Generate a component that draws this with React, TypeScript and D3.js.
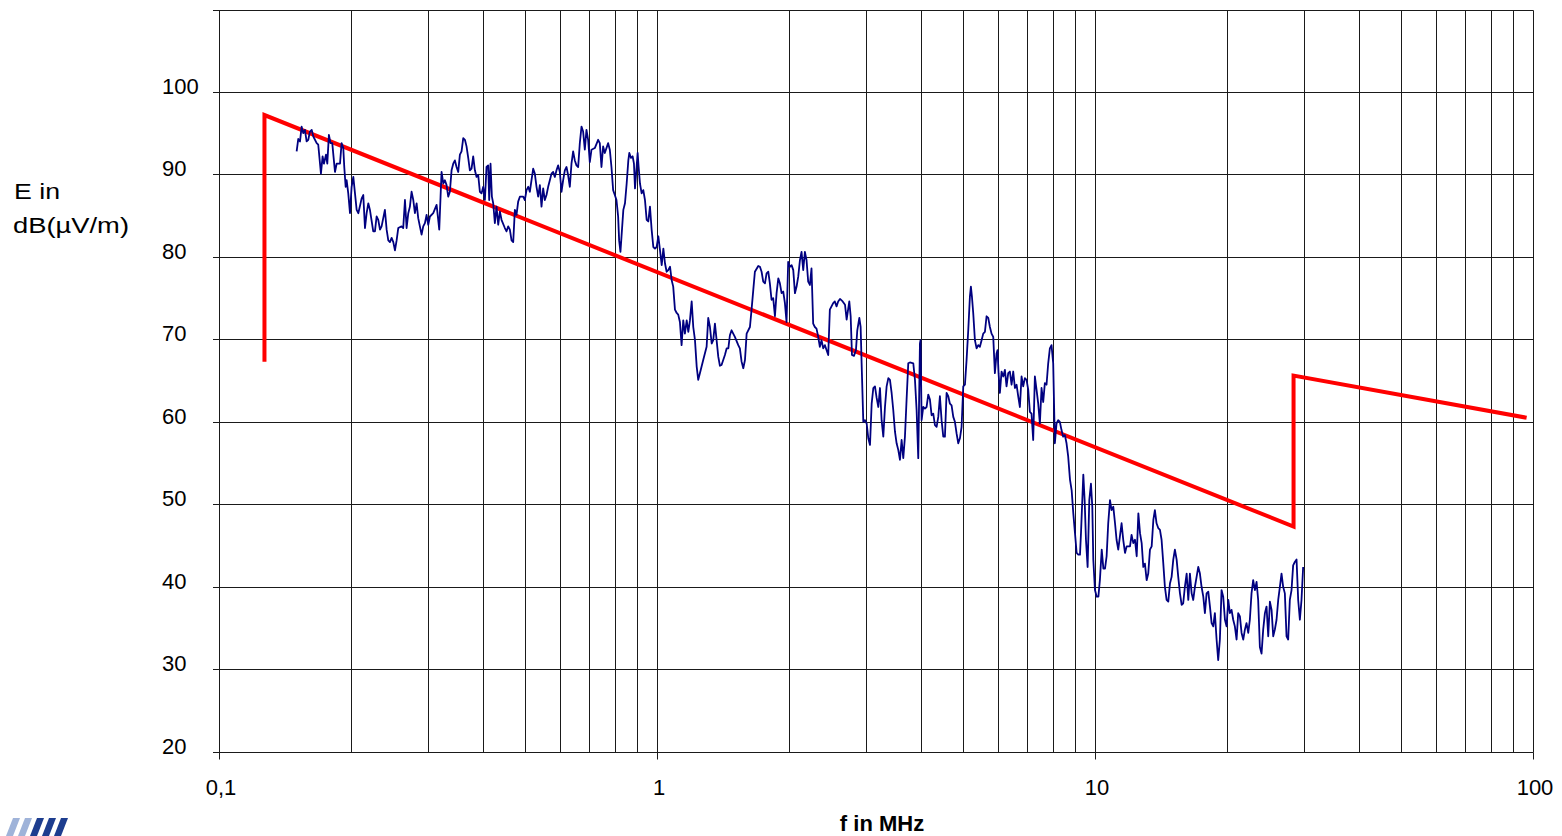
import * as d3 from "d3";

// axis ranges
const freqDomain = [0.1, 100];
const levelDomain = [20, 110];
const levelTicks = [20, 30, 40, 50, 60, 70, 80, 90, 100];
const freqLabels: [number, string][] = [
  [0.1, "0,1"],
  [1, "1"],
  [10, "10"],
  [100, "100"],
];

// limit line (MHz, dB(µV/m))
const limitLine: [number, number][] = [
  [0.127, 67.3],
  [0.127, 97.2],
  [28.4, 47.3],
  [28.4, 65.6],
  [96.7, 60.5],
];

// measured emission (MHz, dB(µV/m))
const emission: [number, number][] = [
  [0.1504, 92.8], [0.1517, 94.3], [0.1531, 94.0], [0.1544, 95.8], [0.1558, 95.0], [0.1571, 95.4],
  [0.1585, 94.0], [0.1599, 94.2], [0.1613, 95.2], [0.1628, 95.4], [0.1642, 94.6], [0.1671, 93.8],
  [0.1685, 93.6], [0.1709, 90.1], [0.1724, 92.2], [0.1736, 91.3], [0.1755, 92.4], [0.1767, 91.3],
  [0.1782, 94.8], [0.1798, 93.8], [0.1814, 93.8], [0.1824, 92.4], [0.184, 90.3], [0.1856, 91.3],
  [0.1889, 91.3], [0.1905, 93.8], [0.1922, 93.2], [0.1932, 90.9], [0.1946, 88.5], [0.1956, 89.3],
  [0.1973, 87.7], [0.1991, 85.3], [0.2008, 88.5], [0.2026, 89.7], [0.2044, 87.7], [0.2062, 85.7],
  [0.208, 85.3], [0.2117, 87.1], [0.2135, 87.5], [0.2154, 83.5], [0.2173, 85.3], [0.2192, 86.5],
  [0.2211, 85.7], [0.225, 83.1], [0.227, 83.1], [0.229, 84.9], [0.231, 84.5], [0.2331, 83.3],
  [0.2351, 83.7], [0.2392, 85.7], [0.2414, 83.3], [0.2435, 82.0], [0.2456, 81.8], [0.2478, 82.3],
  [0.25, 81.8], [0.2522, 80.8], [0.2544, 82.0], [0.2566, 83.5], [0.2611, 83.7], [0.2634, 83.5],
  [0.2658, 86.9], [0.2681, 83.5], [0.2705, 85.3], [0.2728, 86.1], [0.2752, 87.9], [0.2777, 86.9],
  [0.2801, 85.3], [0.2826, 86.5], [0.285, 84.7], [0.2875, 83.7], [0.2901, 82.7], [0.2926, 83.7],
  [0.2952, 84.1], [0.2978, 85.1], [0.3004, 83.9], [0.3031, 84.9], [0.3084, 85.3], [0.3139, 86.3],
  [0.3166, 84.5], [0.3183, 83.3], [0.3205, 87.3], [0.3222, 90.3], [0.3251, 88.9], [0.3279, 89.3],
  [0.3308, 88.7], [0.3337, 87.3], [0.3366, 87.9], [0.3396, 90.5], [0.3426, 91.3], [0.3456, 91.7],
  [0.3486, 90.9], [0.3517, 90.3], [0.3548, 92.4], [0.3579, 92.8], [0.3611, 94.4], [0.3643, 94.2],
  [0.3674, 93.4], [0.3707, 92.0], [0.3739, 90.5], [0.3772, 90.7], [0.3805, 92.2], [0.3839, 90.5],
  [0.3873, 89.7], [0.3907, 89.9], [0.3941, 87.9], [0.3976, 87.7], [0.4011, 88.5], [0.4046, 86.9],
  [0.4081, 90.9], [0.4117, 91.1], [0.4139, 86.9], [0.4168, 91.3], [0.4198, 87.3], [0.4227, 86.5],
  [0.4264, 84.1], [0.4302, 86.1], [0.434, 83.9], [0.4378, 85.5], [0.4416, 84.5], [0.4494, 83.5],
  [0.4534, 83.1], [0.4574, 83.7], [0.4614, 83.3], [0.4655, 82.0], [0.4696, 81.8], [0.4737, 85.7],
  [0.4778, 85.1], [0.482, 86.7], [0.4863, 87.3], [0.4949, 87.3], [0.4992, 86.9], [0.5036, 88.1],
  [0.5081, 88.5], [0.5125, 87.9], [0.517, 89.3], [0.5216, 90.7], [0.5261, 90.1], [0.5308, 88.5],
  [0.5354, 87.3], [0.5402, 88.7], [0.5449, 86.1], [0.5497, 88.3], [0.5545, 86.9], [0.5594, 87.5],
  [0.5643, 88.5], [0.5693, 89.3], [0.5743, 90.1], [0.5793, 90.3], [0.5844, 89.7], [0.5896, 90.5],
  [0.5948, 91.1], [0.6, 90.3], [0.6053, 87.9], [0.6106, 89.3], [0.616, 90.5], [0.6214, 90.9],
  [0.6268, 89.9], [0.6324, 88.5], [0.6379, 91.3], [0.6435, 92.8], [0.6492, 91.7], [0.6549, 91.1],
  [0.6607, 90.9], [0.6665, 93.8], [0.6724, 95.8], [0.6782, 95.2], [0.6842, 93.0], [0.6902, 95.4],
  [0.6963, 94.2], [0.7024, 91.5], [0.7086, 93.0], [0.7211, 93.2], [0.7339, 94.2], [0.7403, 93.8],
  [0.7468, 90.9], [0.7534, 93.4], [0.76, 92.6], [0.7735, 93.8], [0.7803, 93.0], [0.7871, 90.9],
  [0.7941, 88.1], [0.8011, 87.5], [0.8081, 86.9], [0.8152, 84.9], [0.8195, 82.0], [0.8252, 80.6],
  [0.8378, 85.7], [0.8451, 86.5], [0.8526, 88.9], [0.8601, 91.7], [0.8646, 92.6], [0.8722, 92.0],
  [0.8798, 92.2], [0.8859, 91.3], [0.8908, 88.3], [0.9032, 92.6], [0.908, 90.9], [0.9144, 88.9],
  [0.9224, 87.7], [0.9305, 88.1], [0.9387, 86.9], [0.947, 84.5], [0.9553, 84.3], [0.9637, 86.1],
  [0.9722, 83.3], [0.9808, 81.2], [0.9894, 81.0], [0.9981, 81.2], [1.007, 82.5], [1.016, 80.8],
  [1.025, 79.0], [1.034, 81.0], [1.043, 79.2], [1.052, 78.2], [1.061, 78.4], [1.071, 78.8],
  [1.08, 77.2], [1.089, 76.4], [1.099, 73.6], [1.109, 73.2], [1.118, 73.0], [1.128, 72.1],
  [1.138, 69.3], [1.148, 72.3], [1.158, 70.7], [1.169, 72.3], [1.179, 70.9], [1.189, 72.3],
  [1.2, 74.6], [1.21, 71.5], [1.221, 69.9], [1.232, 66.7], [1.242, 65.1], [1.253, 65.9],
  [1.275, 67.5], [1.298, 69.1], [1.309, 72.6], [1.321, 71.5], [1.333, 69.5], [1.344, 69.9],
  [1.356, 71.9], [1.368, 69.9], [1.38, 67.9], [1.392, 66.8], [1.404, 66.9], [1.429, 68.1],
  [1.442, 68.9], [1.455, 68.9], [1.467, 70.5], [1.48, 71.1], [1.506, 70.3], [1.533, 69.3],
  [1.546, 68.9], [1.56, 67.3], [1.574, 66.5], [1.588, 67.5], [1.602, 70.7], [1.63, 71.5],
  [1.644, 73.6], [1.659, 76.0], [1.673, 78.2], [1.703, 78.9], [1.718, 78.8], [1.733, 78.2],
  [1.748, 77.0], [1.764, 76.8], [1.779, 78.0], [1.795, 78.2], [1.81, 76.8], [1.826, 74.8],
  [1.842, 75.0], [1.859, 72.8], [1.875, 75.6], [1.892, 77.4], [1.908, 76.8], [1.925, 75.6],
  [1.942, 75.8], [1.959, 74.4], [1.976, 72.1], [1.993, 79.4], [2.011, 78.8], [2.029, 79.0],
  [2.047, 78.4], [2.065, 75.6], [2.083, 76.4], [2.101, 77.6], [2.12, 79.6], [2.138, 80.6],
  [2.157, 78.4], [2.176, 80.6], [2.195, 79.6], [2.214, 77.0], [2.234, 76.6], [2.253, 78.6],
  [2.273, 71.9], [2.293, 71.5], [2.313, 71.3], [2.334, 70.3], [2.354, 69.1], [2.375, 69.9],
  [2.396, 68.9], [2.417, 69.3], [2.438, 68.7], [2.46, 68.1], [2.481, 73.6], [2.525, 74.4],
  [2.547, 74.6], [2.57, 74.0], [2.592, 74.6], [2.617, 74.9], [2.654, 74.6], [2.687, 74.2],
  [2.71, 72.4], [2.748, 74.6], [2.768, 72.8], [2.787, 68.1], [2.816, 68.0], [2.846, 68.7],
  [2.866, 71.1], [2.897, 72.6], [2.917, 71.5], [2.932, 67.1], [2.958, 60.0], [2.984, 60.2],
  [3.011, 59.8], [3.037, 58.0], [3.064, 57.2], [3.091, 62.2], [3.118, 64.1], [3.145, 64.3],
  [3.173, 62.9], [3.201, 61.8], [3.229, 64.1], [3.257, 60.2], [3.286, 58.2], [3.315, 61.8],
  [3.344, 64.3], [3.374, 65.3], [3.403, 65.1], [3.433, 63.5], [3.463, 61.4], [3.494, 58.8],
  [3.524, 57.4], [3.555, 56.6], [3.587, 55.4], [3.618, 57.8], [3.65, 55.6], [3.682, 58.2],
  [3.714, 62.7], [3.747, 67.1], [3.78, 67.2], [3.847, 67.1], [3.881, 65.1], [3.915, 61.4],
  [3.949, 55.6], [3.984, 69.5], [3.997, 69.9], [4.019, 60.2], [4.054, 61.8], [4.09, 61.6],
  [4.126, 61.8], [4.162, 63.3], [4.199, 62.7], [4.236, 60.8], [4.273, 61.0], [4.311, 59.6],
  [4.349, 59.4], [4.387, 60.6], [4.425, 63.1], [4.464, 60.2], [4.504, 58.2], [4.543, 58.2],
  [4.583, 63.5], [4.624, 63.1], [4.664, 62.2], [4.705, 62.0], [4.747, 60.6], [4.788, 60.0],
  [4.83, 58.6], [4.873, 57.4], [4.916, 58.0], [4.959, 59.4], [5.003, 64.3], [5.047, 64.5],
  [5.091, 67.5], [5.136, 71.1], [5.181, 75.2], [5.208, 76.4], [5.236, 75.2], [5.272, 73.2],
  [5.319, 69.9], [5.366, 68.9], [5.413, 69.3], [5.46, 69.1], [5.509, 69.9], [5.557, 70.7],
  [5.606, 70.9], [5.655, 72.8], [5.705, 72.6], [5.755, 71.5], [5.805, 70.7], [5.857, 70.3],
  [5.908, 65.9], [5.96, 68.3], [5.991, 68.7], [6.023, 65.9], [6.065, 63.5], [6.119, 66.1],
  [6.173, 65.5], [6.227, 66.3], [6.281, 64.3], [6.337, 65.9], [6.393, 66.1], [6.449, 64.5],
  [6.506, 66.1], [6.563, 64.1], [6.621, 64.5], [6.679, 63.1], [6.738, 61.8], [6.797, 65.5],
  [6.856, 64.3], [6.917, 65.3], [6.978, 65.1], [7.039, 63.9], [7.101, 61.2], [7.163, 61.0],
  [7.226, 57.8], [7.29, 65.5], [7.354, 63.9], [7.419, 62.2], [7.484, 59.8], [7.55, 64.1],
  [7.616, 62.4], [7.683, 64.7], [7.751, 64.5], [7.819, 67.1], [7.888, 68.9], [7.957, 69.3],
  [8.027, 67.1], [8.098, 57.4], [8.169, 59.8], [8.241, 60.2], [8.313, 60.0], [8.386, 59.0],
  [8.46, 58.2], [8.535, 58.4], [8.61, 57.4], [8.685, 55.8], [8.768, 53.0], [8.845, 51.7],
  [8.922, 48.9], [9.001, 46.5], [9.08, 44.1], [9.16, 43.9], [9.241, 43.9], [9.29, 46.5],
  [9.404, 53.6], [9.47, 50.5], [9.536, 45.7], [9.619, 42.4], [9.705, 50.5], [9.79, 52.5],
  [9.859, 49.7], [9.911, 43.3], [9.998, 39.6], [10.09, 38.8], [10.18, 38.8], [10.26, 40.8],
  [10.36, 44.5], [10.45, 42.2], [10.54, 42.2], [10.63, 43.7], [10.72, 47.7], [10.82, 50.5],
  [10.91, 49.3], [11.01, 49.7], [11.11, 47.7], [11.2, 45.7], [11.3, 44.5], [11.4, 46.1],
  [11.5, 47.7], [11.6, 45.7], [11.71, 44.1], [11.81, 44.9], [12.02, 44.9], [12.12, 46.3],
  [12.23, 45.3], [12.34, 45.7], [12.45, 43.7], [12.56, 48.9], [12.67, 46.5], [12.78, 45.3],
  [12.89, 42.4], [13.0, 42.8], [13.12, 40.8], [13.23, 41.6], [13.35, 44.5], [13.47, 44.9],
  [13.59, 48.1], [13.7, 49.3], [13.82, 47.7], [13.95, 47.1], [14.07, 46.9], [14.19, 45.7],
  [14.32, 42.8], [14.44, 40.0], [14.57, 38.4], [14.7, 38.2], [14.83, 40.4], [14.96, 41.2],
  [15.09, 43.3], [15.22, 44.5], [15.36, 43.3], [15.49, 41.2], [15.63, 39.2], [15.77, 37.8],
  [15.9, 38.0], [16.04, 40.0], [16.19, 41.6], [16.33, 38.4], [16.47, 41.6], [16.62, 39.2],
  [16.76, 38.4], [16.91, 40.0], [17.06, 41.2], [17.21, 42.4], [17.36, 41.6], [17.51, 40.0],
  [17.67, 38.8], [17.82, 36.8], [17.98, 39.2], [18.14, 39.4], [18.3, 37.6], [18.46, 35.6],
  [18.62, 35.2], [18.78, 36.8], [18.95, 33.6], [19.11, 31.1], [19.28, 33.6], [19.45, 39.6],
  [19.62, 38.8], [19.8, 36.0], [19.97, 35.2], [20.15, 38.4], [20.32, 36.8], [20.5, 37.2],
  [20.68, 36.0], [20.86, 35.2], [21.05, 33.6], [21.23, 36.8], [21.42, 36.4], [21.61, 34.4],
  [21.8, 33.6], [21.99, 34.8], [22.18, 35.6], [22.38, 34.4], [22.57, 36.0], [22.77, 39.2],
  [22.97, 40.8], [23.18, 39.6], [23.38, 40.6], [23.58, 38.4], [23.79, 32.7], [24.0, 31.9],
  [24.21, 34.8], [24.43, 36.8], [24.64, 37.6], [24.86, 34.0], [25.08, 38.2], [25.3, 37.2],
  [25.52, 34.0], [25.74, 34.8], [25.97, 36.0], [26.2, 38.4], [26.43, 40.0], [26.66, 41.6],
  [26.89, 40.0], [27.13, 39.2], [27.37, 34.0], [27.61, 33.6], [27.85, 38.4], [28.1, 39.6],
  [28.34, 42.6], [28.59, 43.0], [28.85, 43.3], [29.1, 38.4], [29.36, 36.0], [29.61, 38.4],
  [29.87, 42.4],
];

const width = 1562;
const height = 836;
const left = 219;
const right = 1533;
const top = 9.5;
const bottom = 751.7;
const font = "'Liberation Sans', Arial, sans-serif";

const App = () => {
  const x = d3.scaleLog(freqDomain, [left, right]);
  const y = d3.scaleLinear(levelDomain, [bottom, top]);
  const line = d3
    .line<[number, number]>()
    .x((d) => x(d[0]))
    .y((d) => y(d[1]));

  const crisp = (v: number) => Math.round(v) + 0.5;
  const vGrid = x.ticks();
  const hGrid = d3.range(levelDomain[0], levelDomain[1] + 1, 10);

  return (
    <svg
      width={width}
      height={height}
      style={{ position: "absolute", left: 0, top: 0, background: "#fff" }}
    >
      <rect width={width} height={height} fill='#fff' />

      {/* grid */}
      <g stroke='#1a1a1a' strokeWidth={1}>
        {vGrid.map((f, i) => (
          <line key={"v" + i} x1={crisp(x(f))} x2={crisp(x(f))} y1={crisp(top)} y2={crisp(bottom)} />
        ))}
        {hGrid.map((v) => (
          <line key={"h" + v} x1={left - 6} x2={crisp(right)} y1={crisp(y(v))} y2={crisp(y(v))} />
        ))}
        {freqLabels.map(([f]) => (
          <line key={"t" + f} x1={crisp(x(f))} x2={crisp(x(f))} y1={crisp(bottom)} y2={crisp(bottom) + 7} />
        ))}
      </g>

      {/* limit */}
      <path
        d={line(limitLine)!}
        fill='none'
        stroke='#ff0000'
        strokeWidth={4}
        strokeLinejoin='miter'
      />

      {/* measurement */}
      <path
        d={line(emission)!}
        fill='none'
        stroke='#000080'
        strokeWidth={1.8}
        strokeLinejoin='round'
      />

      {/* y labels */}
      <g fontFamily={font} fontSize={22} fill='#000'>
        {levelTicks.map((v) => (
          <text key={v} x={162} y={y(v) + 2}>
            {v}
          </text>
        ))}
        {freqLabels.map(([f, label]) => (
          <text key={label} x={x(f) + 2} y={795} textAnchor='middle'>
            {label}
          </text>
        ))}
        <text x={14} y={199} textLength={46} lengthAdjust='spacingAndGlyphs'>
          E in
        </text>
        <text x={13} y={233} textLength={116} lengthAdjust='spacingAndGlyphs'>
          dB(µV/m)
        </text>
        <text x={882} y={831} textAnchor='middle' fontWeight='bold'>
          f in MHz
        </text>
      </g>

      {/* logo fragment */}
      <g>
        {[0, 1, 2, 3, 4].map((i) => (
          <path
            key={i}
            d={`M${6 + i * 12},836 L${13 + i * 12},818 L${20 + i * 12},818 L${13 + i * 12},836 Z`}
            fill={i < 2 ? "#9fb3d9" : "#1d3d8f"}
          />
        ))}
      </g>
    </svg>
  );
};

export default App;
